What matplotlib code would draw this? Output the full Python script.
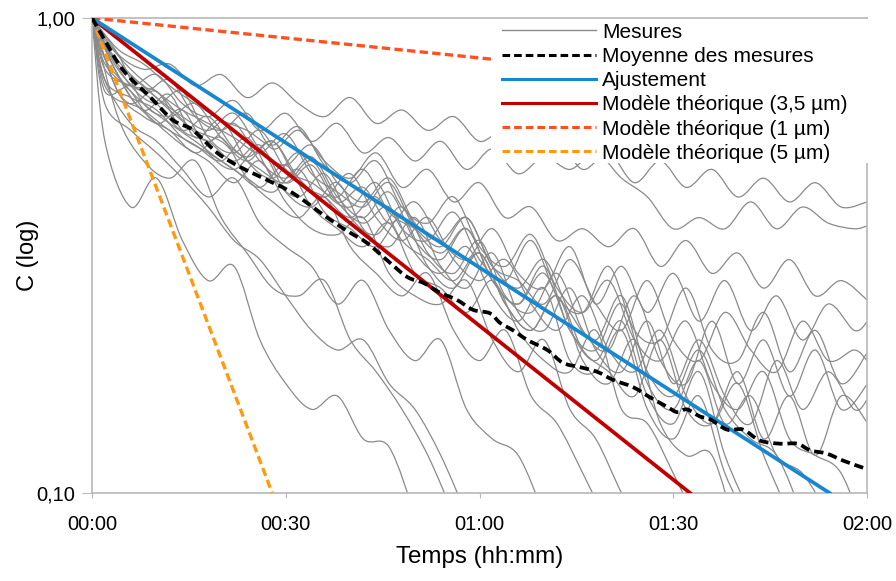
import numpy as np
import matplotlib
matplotlib.use("Agg")
import matplotlib.pyplot as plt
from matplotlib.path import Path
from matplotlib.patches import PathPatch, Rectangle
from matplotlib.lines import Line2D

plt.rcParams['font.family'] = ['Liberation Sans', 'DejaVu Sans']

# time grids of the measurements (minutes): one sample every 4 min,
# the second series of runs was sampled 2 min out of step
t_mes_a = list(range(0, 121, 4))
t_mes_b = [0, 2] + list(range(6, 119, 4)) + [120]

# measured curves (C, relative) - still above 0,10 at 02:00
mes_s1 = [1.0, 0.84, 0.78, 0.80, 0.72, 0.76, 0.68, 0.73, 0.66, 0.62, 0.68, 0.60, 0.64, 0.58, 0.62, 0.55,
          0.58, 0.50, 0.55, 0.48, 0.52, 0.45, 0.50, 0.44, 0.48, 0.42, 0.46, 0.41, 0.45, 0.40, 0.41]
mes_s2 = [1.0, 0.80, 0.72, 0.76, 0.66, 0.62, 0.67, 0.58, 0.63, 0.55, 0.60, 0.52, 0.56, 0.50, 0.55, 0.48,
          0.53, 0.47, 0.51, 0.48, 0.52, 0.46, 0.42, 0.36, 0.38, 0.36, 0.41, 0.36, 0.40, 0.37, 0.36, 0.365]
mes_s3 = [1.0, 0.78, 0.70, 0.74, 0.62, 0.58, 0.63, 0.53, 0.58, 0.50, 0.46, 0.52, 0.44, 0.48, 0.41, 0.45,
          0.38, 0.40, 0.34, 0.36, 0.33, 0.36, 0.30, 0.34, 0.29, 0.32, 0.27, 0.31, 0.26, 0.28, 0.255]
mes_s4 = [1.0, 0.72, 0.66, 0.70, 0.58, 0.55, 0.50, 0.54, 0.45, 0.49, 0.41, 0.44, 0.37, 0.41, 0.34, 0.31,
          0.36, 0.29, 0.27, 0.33, 0.25, 0.30, 0.24, 0.29, 0.23, 0.28, 0.22, 0.26, 0.21, 0.25, 0.22, 0.229]
mes_s5 = [1.0, 0.76, 0.64, 0.69, 0.56, 0.61, 0.50, 0.46, 0.52, 0.43, 0.40, 0.45, 0.36, 0.34, 0.39, 0.31,
          0.28, 0.34, 0.26, 0.24, 0.30, 0.22, 0.21, 0.27, 0.20, 0.19, 0.24, 0.18, 0.22, 0.17, 0.197]
mes_s6 = [1.0, 0.88, 0.72, 0.66, 0.70, 0.56, 0.52, 0.58, 0.48, 0.45, 0.42, 0.48, 0.39, 0.36, 0.33, 0.38,
          0.30, 0.28, 0.25, 0.31, 0.25, 0.22, 0.28, 0.21, 0.19, 0.24, 0.20, 0.18, 0.23, 0.19, 0.20, 0.19]
mes_s7 = [1.0, 0.70, 0.64, 0.58, 0.54, 0.50, 0.56, 0.46, 0.42, 0.47, 0.38, 0.35, 0.40, 0.32, 0.29, 0.34,
          0.26, 0.24, 0.29, 0.22, 0.20, 0.26, 0.19, 0.17, 0.23, 0.17, 0.21, 0.16, 0.20, 0.15, 0.169]
mes_s8 = [1.0, 0.82, 0.70, 0.60, 0.64, 0.52, 0.48, 0.53, 0.43, 0.40, 0.45, 0.36, 0.33, 0.38, 0.30, 0.27,
          0.32, 0.24, 0.22, 0.27, 0.20, 0.18, 0.23, 0.17, 0.21, 0.16, 0.14, 0.19, 0.15, 0.18, 0.15, 0.157]
mes_s9 = [1.0, 0.76, 0.66, 0.60, 0.55, 0.50, 0.46, 0.43, 0.48, 0.39, 0.36, 0.33, 0.38, 0.30, 0.27, 0.32,
          0.25, 0.22, 0.26, 0.20, 0.18, 0.16, 0.21, 0.15, 0.14, 0.18, 0.13, 0.16, 0.12, 0.16, 0.141]
# measured curves leaving the chart below 0,10
mes_e1 = [1.0, 0.55, 0.40, 0.46, 0.34, 0.28, 0.30, 0.21, 0.17, 0.15, 0.16, 0.13, 0.125, 0.09]
mes_e2 = [1.0, 0.62, 0.50, 0.46, 0.50, 0.38, 0.32, 0.27, 0.26, 0.28, 0.21, 0.18, 0.15, 0.12, 0.09]
mes_e3 = [1.0, 0.66, 0.58, 0.52, 0.46, 0.40, 0.34, 0.31, 0.26, 0.22, 0.20, 0.21, 0.17, 0.15, 0.12, 0.09]
mes_e4 = [1.0, 0.74, 0.60, 0.55, 0.48, 0.42, 0.46, 0.37, 0.33, 0.30, 0.25, 0.28, 0.22, 0.19, 0.21, 0.15,
          0.13, 0.12, 0.09]
mes_e5 = [1.0, 0.70, 0.62, 0.58, 0.52, 0.56, 0.46, 0.41, 0.38, 0.42, 0.33, 0.29, 0.26, 0.29, 0.22, 0.19,
          0.22, 0.16, 0.14, 0.11, 0.085]
mes_e6 = [1.0, 0.86, 0.68, 0.60, 0.54, 0.50, 0.45, 0.50, 0.41, 0.36, 0.35, 0.38, 0.29, 0.26, 0.25, 0.28,
          0.21, 0.18, 0.21, 0.15, 0.13, 0.10, 0.08]
mes_e7 = [1.0, 0.74, 0.68, 0.64, 0.56, 0.52, 0.48, 0.44, 0.49, 0.40, 0.36, 0.33, 0.37, 0.29, 0.27, 0.24,
          0.28, 0.22, 0.19, 0.18, 0.22, 0.15, 0.14, 0.11, 0.085]
mes_e8 = [1.0, 0.80, 0.72, 0.64, 0.58, 0.55, 0.50, 0.55, 0.45, 0.42, 0.38, 0.42, 0.34, 0.31, 0.28, 0.32,
          0.25, 0.22, 0.26, 0.19, 0.17, 0.21, 0.14, 0.12, 0.12, 0.08]
mes_e9 = [1.0, 0.90, 0.78, 0.70, 0.64, 0.60, 0.56, 0.52, 0.57, 0.47, 0.43, 0.40, 0.45, 0.36, 0.32, 0.36,
          0.28, 0.25, 0.29, 0.22, 0.19, 0.23, 0.16, 0.14, 0.18, 0.12, 0.09]
mes_e10 = [1.0, 0.70, 0.72, 0.66, 0.58, 0.62, 0.53, 0.48, 0.45, 0.50, 0.41, 0.37, 0.40, 0.32, 0.29, 0.33,
           0.26, 0.23, 0.27, 0.19, 0.18, 0.22, 0.15, 0.13, 0.16, 0.11, 0.085]
mes_e11 = [1.0, 0.84, 0.66, 0.62, 0.66, 0.56, 0.51, 0.55, 0.46, 0.42, 0.47, 0.38, 0.34, 0.38, 0.31, 0.28,
           0.31, 0.25, 0.22, 0.26, 0.20, 0.18, 0.22, 0.16, 0.14, 0.17, 0.12, 0.09]
mes_e12 = [1.0, 0.88, 0.76, 0.68, 0.62, 0.58, 0.63, 0.53, 0.49, 0.54, 0.45, 0.41, 0.46, 0.37, 0.34, 0.38,
           0.30, 0.27, 0.31, 0.24, 0.21, 0.26, 0.18, 0.16, 0.20, 0.15, 0.13, 0.12, 0.09]
mes_e13 = [1.0, 0.78, 0.72, 0.70, 0.61, 0.55, 0.60, 0.50, 0.46, 0.51, 0.42, 0.38, 0.43, 0.34, 0.31, 0.36,
           0.28, 0.25, 0.30, 0.22, 0.20, 0.25, 0.17, 0.15, 0.19, 0.14, 0.16, 0.12, 0.11, 0.09]
mes_e14 = [1.0, 0.86, 0.80, 0.72, 0.66, 0.61, 0.58, 0.54, 0.59, 0.49, 0.45, 0.50, 0.40, 0.37, 0.42, 0.33,
           0.30, 0.35, 0.27, 0.24, 0.28, 0.21, 0.19, 0.23, 0.17, 0.15, 0.18, 0.13, 0.12, 0.11, 0.08]

mesures_a = [mes_s1, mes_s3, mes_s5, mes_s7, mes_s9, mes_e2, mes_e5, mes_e8, mes_e11, mes_e14]
mesures_b = [mes_s2, mes_s4, mes_s6, mes_s8, mes_e1, mes_e3, mes_e4, mes_e6, mes_e7, mes_e9,
             mes_e10, mes_e12, mes_e13]

# mean of the measurements
t_moy = [0, 1.7, 4.8, 9.0, 12.5, 15.6, 19.4, 22.9, 27.1, 31.1, 36.9, 40.0, 42.6, 45.7, 48.8, 51.3,
         53.9, 56.5, 59.0, 61.6, 63.2, 65.2, 67.4, 70.5, 72.9, 75.6, 78.2, 80.7, 83.8, 86.4, 89.0,
         90.6, 92.1, 94.1, 95.7, 98.3, 100.8, 103.4, 106.5, 109.2, 111.2, 113.8, 116.3, 119.4]
c_moy = [1.0, 0.912, 0.777, 0.682, 0.610, 0.581, 0.520, 0.486, 0.456, 0.428, 0.376, 0.353, 0.336,
         0.309, 0.285, 0.277, 0.264, 0.255, 0.243, 0.239, 0.228, 0.220, 0.210, 0.200, 0.188, 0.184,
         0.180, 0.173, 0.167, 0.159, 0.152, 0.148, 0.150, 0.145, 0.143, 0.136, 0.136, 0.129, 0.127,
         0.127, 0.123, 0.121, 0.117, 0.113]

# straight (exponential) lines: start / end points
t_fit, c_fit = [0, 114.2], [1.0, 0.1]
t_m35, c_m35 = [0, 92.6], [1.0, 0.1]
t_m1, c_m1 = [0, 120], [1.0, 0.679]
t_m5, c_m5 = [0, 27.9], [1.0, 0.1]

x_ticks = [0, 30, 60, 90, 120]
x_labels = ['00:00', '00:30', '01:00', '01:30', '02:00']
y_ticks = [0.1, 1.0]
y_labels = ['0,10', '1,00']

GRAY = '#8a8a8a'
BLACK = '#000000'
BLUE = '#1787d0'
RED = '#c00000'
RED_OR = '#ff5022'
ORANGE = '#ff9a10'
AXIS = '#b8b8b8'


def smooth_path(t, c):
    # Excel-like smoothed line (Catmull-Rom through the points, in log space)
    x = np.asarray(t, float)
    y = np.log10(np.asarray(c, float))
    n = len(x)
    verts = [(x[0], y[0])]
    codes = [Path.MOVETO]
    for i in range(n - 1):
        a = i - 1 if i > 0 else i
        d = i + 2 if i + 2 < n else i + 1
        c1 = (x[i] + (x[i + 1] - x[a]) / 6, y[i] + (y[i + 1] - y[a]) / 6)
        c2 = (x[i + 1] - (x[d] - x[i]) / 6, y[i + 1] - (y[d] - y[i]) / 6)
        verts += [c1, c2, (x[i + 1], y[i + 1])]
        codes += [Path.CURVE4] * 3
    v = np.array(verts)
    v[:, 1] = 10 ** v[:, 1]
    return Path(v, codes)


fig = plt.figure(figsize=(8.96, 5.81), dpi=100)
ax = fig.add_axes([92 / 896, 1 - 493 / 581, 775 / 896, 475 / 581])
ax.set_yscale('log')
ax.set_xlim(0, 120)
ax.set_ylim(0.1, 1.0)

for grid, group in ((t_mes_a, mesures_a), (t_mes_b, mesures_b)):
    for m in group:
        ax.add_patch(PathPatch(smooth_path(grid[:len(m)], m), fill=False,
                               edgecolor=GRAY, lw=0.9, zorder=2))

dash = (0, (2.5, 1.3))
ax.plot(t_m1, c_m1, color=RED_OR, lw=2.4, ls=dash, zorder=3)
ax.plot(t_m5, c_m5, color=ORANGE, lw=2.4, ls=dash, zorder=3)
ax.plot(t_m35, c_m35, color=RED, lw=2.7, zorder=3)
ax.plot(t_fit, c_fit, color=BLUE, lw=2.7, zorder=3)
ax.add_patch(PathPatch(smooth_path(t_moy, c_moy), fill=False, edgecolor=BLACK,
                       lw=2.7, ls=dash, zorder=3.5))

ax.set_xticks(x_ticks)
ax.set_xticklabels(x_labels)
ax.set_yticks(y_ticks)
ax.set_yticklabels(y_labels)
ax.yaxis.set_minor_locator(matplotlib.ticker.NullLocator())
ax.tick_params(axis='x', length=3.6, pad=12, color=AXIS, labelsize=14.5)
ax.tick_params(axis='y', length=7, pad=5, color=AXIS, labelsize=14.5)
for s in ax.spines.values():
    s.set_color(AXIS)
    s.set_linewidth(1.2)

ax.set_xlabel('Temps (hh:mm)', fontsize=17.4)
ax.set_ylabel('C (log)', fontsize=17)
ax.xaxis.set_label_coords(0.5, -0.112)
ax.yaxis.set_label_coords(-0.068, 0.5)

# white area behind the legend
ax.add_patch(Rectangle((0.515, 0.695), 0.49, 0.302, transform=ax.transAxes,
                       facecolor='white', edgecolor='none', zorder=4, clip_on=False))

handles = [
    Line2D([], [], color=GRAY, lw=1.0),
    Line2D([], [], color=BLACK, lw=2.2, ls=dash),
    Line2D([], [], color=BLUE, lw=2.2),
    Line2D([], [], color=RED, lw=2.2),
    Line2D([], [], color=RED_OR, lw=2.2, ls=dash),
    Line2D([], [], color=ORANGE, lw=2.2, ls=dash),
]
labels = ['Mesures', 'Moyenne des mesures', 'Ajustement',
          'Modèle théorique (3,5 µm)', 'Modèle théorique (1 µm)', 'Modèle théorique (5 µm)']
leg = ax.legend(handles, labels, loc='upper left', bbox_to_anchor=(0.529, 0.99),
                frameon=False, fontsize=15, handlelength=4.5, handletextpad=0.3,
                labelspacing=0.25, borderpad=0, borderaxespad=0)
leg.set_zorder(5)

fig.savefig('out.png', dpi=100)
